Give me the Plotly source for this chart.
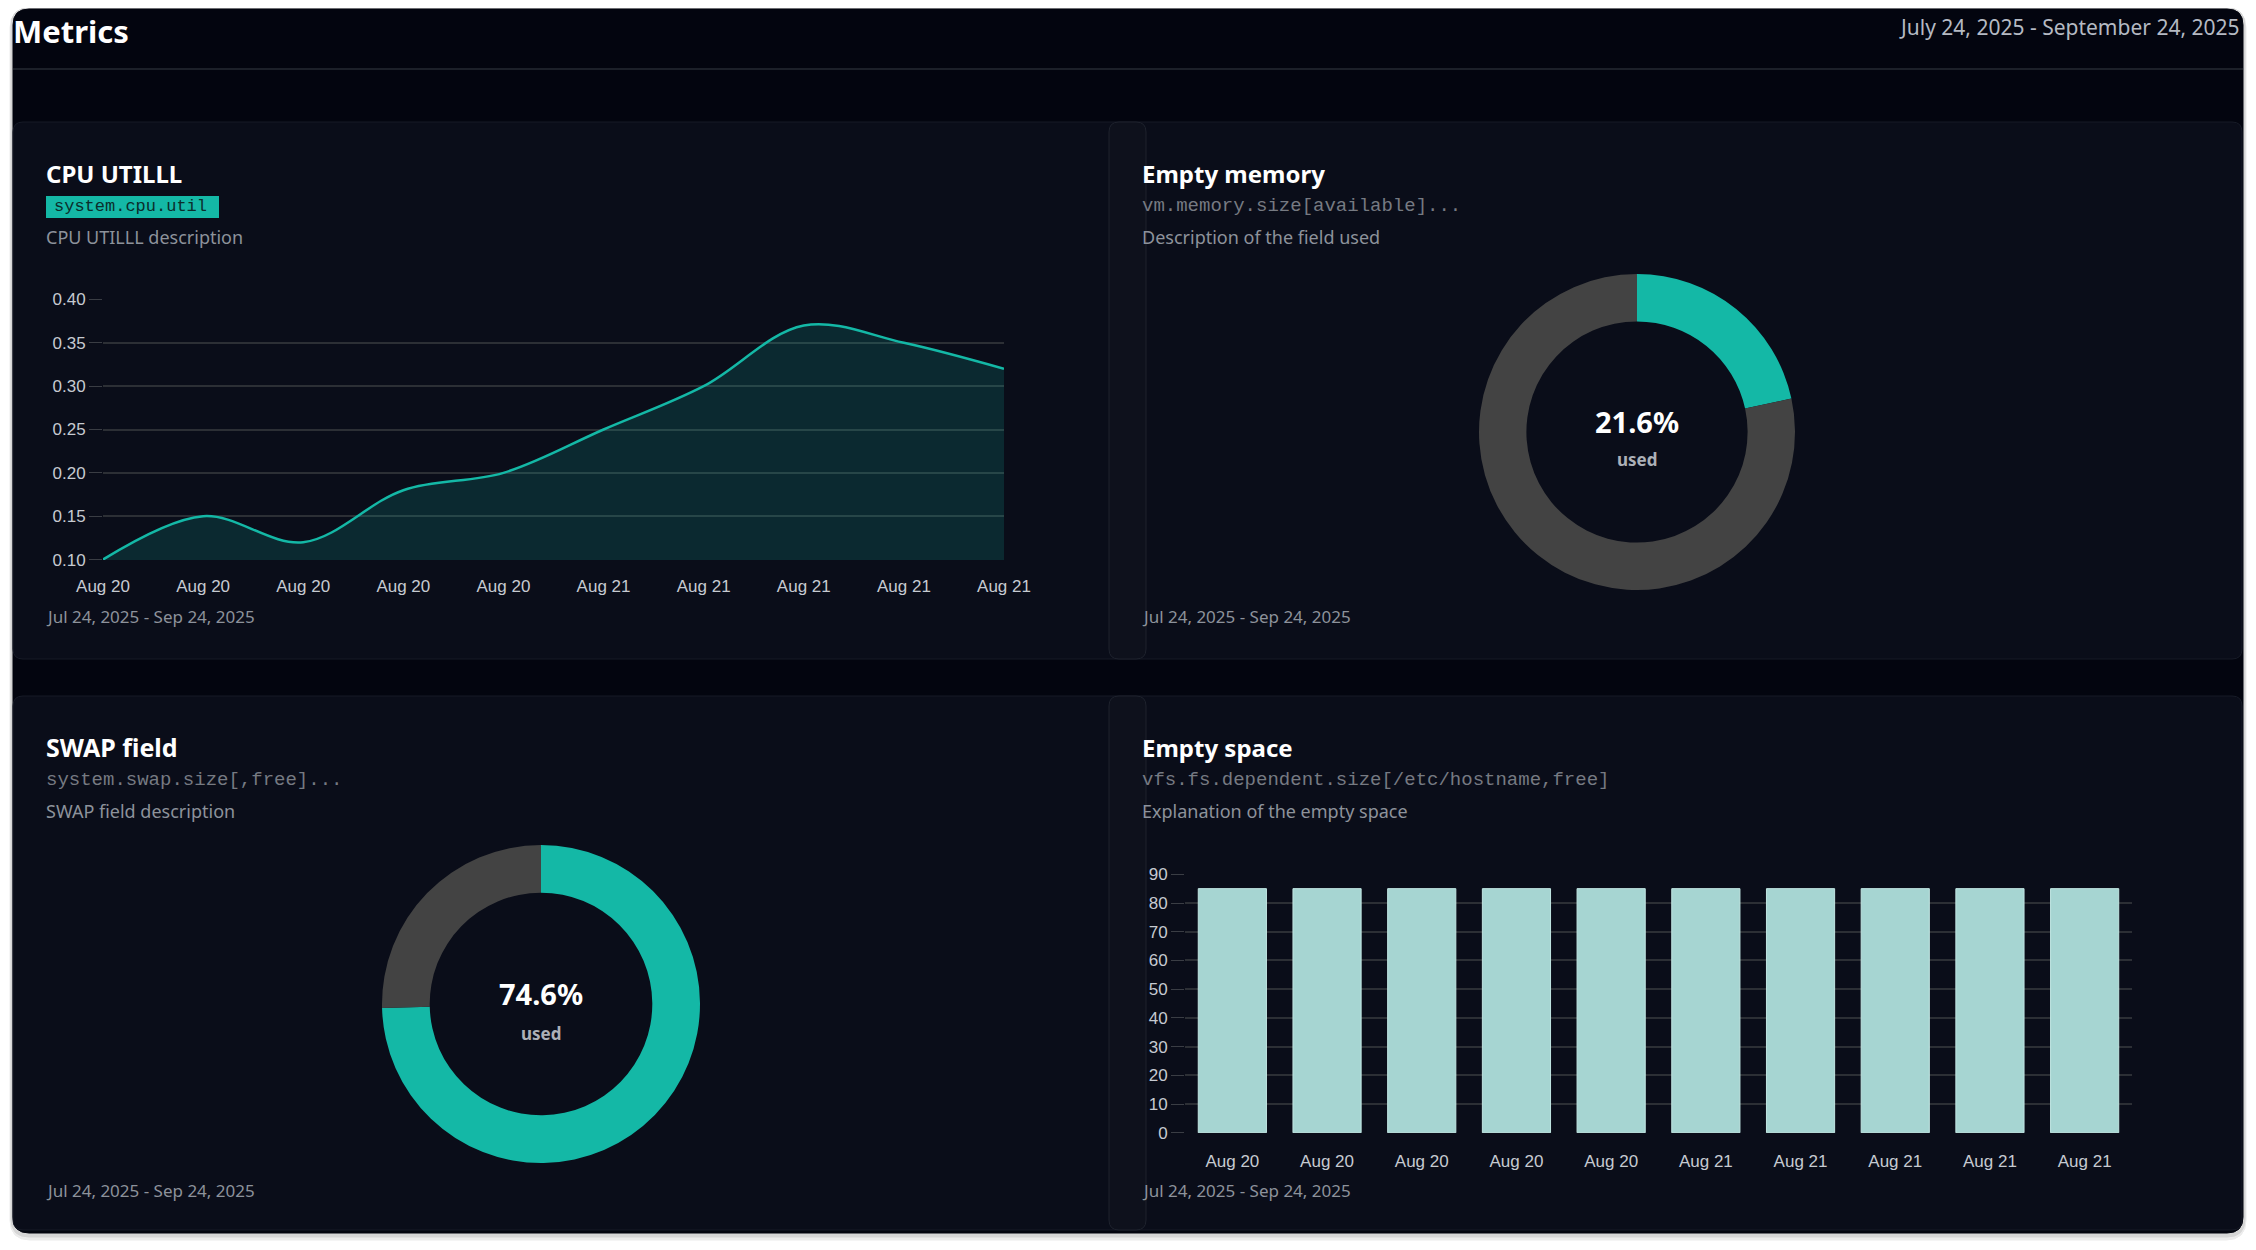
import plotly.graph_objects as go

# ---- data ----
cpu_labels = ["Aug 20", "Aug 20", "Aug 20", "Aug 20", "Aug 20",
              "Aug 21", "Aug 21", "Aug 21", "Aug 21", "Aug 21"]
cpu_values = [0.10, 0.15, 0.12, 0.18, 0.20, 0.25, 0.30, 0.37, 0.35, 0.32]

memory_used = 21.6
swap_used = 74.6

space_labels = ["Aug 20", "Aug 20", "Aug 20", "Aug 20", "Aug 20",
                "Aug 21", "Aug 21", "Aug 21", "Aug 21", "Aug 21"]
space_values = [85, 85, 85, 85, 85, 85, 85, 85, 85, 85]

# ---- page geometry (pixels) ----
W, H = 2240, 1234
OFF = 8  # body margin of the html page

TEAL = "#14b8a6"
GREY_RING = "#434343"
FRAME_BG = "#03050f"
PANEL_BG = "#0a0d19"
PANEL_LINE = "#171b27"
TXT_MUTED = "#8d929b"
CODE_TXT = "#767a82"
TICK_TXT = "#c6cad1"
GRID = "#2c2f35"
UI_FONT = "Noto Sans"
TICK_FONT = "Liberation Sans"
MONO_FONT = "Liberation Mono"


def px(x):
    return (x - OFF) / W


def py(y):
    return 1 - (y - OFF) / H


def rrect(x0, y0, x1, y1, r):
    return (f"M {px(x0 + r)},{py(y0)} L {px(x1 - r)},{py(y0)} "
            f"Q {px(x1)},{py(y0)} {px(x1)},{py(y0 + r)} L {px(x1)},{py(y1 - r)} "
            f"Q {px(x1)},{py(y1)} {px(x1 - r)},{py(y1)} L {px(x0 + r)},{py(y1)} "
            f"Q {px(x0)},{py(y1)} {px(x0)},{py(y1 - r)} L {px(x0)},{py(y0 + r)} "
            f"Q {px(x0)},{py(y0)} {px(x0 + r)},{py(y0)} Z")


def box(x0, y0, x1, y1, r, fill, line=None):
    return dict(type="path", xref="paper", yref="paper", layer="below",
                path=rrect(x0, y0, x1, y1, r), fillcolor=fill,
                line=dict(color=line or fill, width=1))


def label(x, y, text, size, color, family=UI_FONT, bold=False, anchor="left"):
    if bold:
        text = f"<b>{text}</b>"
    return dict(x=px(x), y=py(y), xref="paper", yref="paper", text=text,
                showarrow=False, xanchor=anchor, yanchor="middle",
                font=dict(size=size, color=color, family=family))


fig = go.Figure()

# CPU line
fig.add_trace(go.Scatter(
    x=list(range(len(cpu_values))), y=cpu_values,
    mode="lines", line=dict(color=TEAL, width=2.5, shape="spline", smoothing=1.0),
    fill="tozeroy", fillcolor="rgba(20,184,166,0.17)",
    xaxis="x", yaxis="y", hoverinfo="y"))

# Empty memory donut
fig.add_trace(go.Pie(
    values=[memory_used, 100 - memory_used], labels=["used", "free"],
    hole=0.70, sort=False, direction="clockwise", rotation=0,
    marker=dict(colors=[TEAL, GREY_RING], line=dict(width=0)),
    textinfo="none", showlegend=False,
    domain=dict(x=[px(1637 - 158), px(1637 + 158)], y=[py(432 + 158), py(432 - 158)])))

# SWAP donut
fig.add_trace(go.Pie(
    values=[swap_used, 100 - swap_used], labels=["used", "free"],
    hole=0.70, sort=False, direction="clockwise", rotation=0,
    marker=dict(colors=[TEAL, GREY_RING], line=dict(width=0)),
    textinfo="none", showlegend=False,
    domain=dict(x=[px(541 - 159), px(541 + 159)], y=[py(1004 + 159), py(1004 - 159)])))

# Empty space bars
fig.add_trace(go.Bar(
    x=list(range(len(space_values))), y=space_values,
    marker=dict(color="#a6d5d2", line=dict(color="#c2e6e3", width=1)),
    width=0.72, xaxis="x2", yaxis="y2", hoverinfo="y"))

shapes = [
    # soft shadow round the frame
    box(10, 8, 2246, 1240, 20, "#ececec"),
    box(11, 8, 2245, 1237, 18, "#d6d6d6"),
    box(13, 9, 2243, 1233, 16, FRAME_BG),
    dict(type="line", xref="paper", yref="paper", layer="below",
         x0=px(13), x1=px(2243), y0=py(69), y1=py(69),
         line=dict(color="#262a33", width=1.5)),
    box(13, 122, 2242, 659, 10, PANEL_BG, PANEL_LINE),
    box(1109, 122, 1146, 659, 10, "#0e111c", "#1e222d"),
    box(13, 696, 2242, 1230, 10, PANEL_BG, PANEL_LINE),
    box(1109, 696, 1146, 1230, 10, "#0e111c", "#1e222d"),
    dict(type="rect", xref="paper", yref="paper", layer="below",
         x0=px(46), x1=px(219), y0=py(218), y1=py(196),
         fillcolor=TEAL, line=dict(width=0)),
]

annotations = [
    dict(x=px(11), y=1, xref="paper", yref="paper", text="<b>Metrics</b>",
         showarrow=False, xanchor="left", yanchor="top",
         font=dict(size=31, color="#ffffff", family=UI_FONT)),
    label(2242, 27, "July 24, 2025 - September 24, 2025", 21, "#b5bac3", anchor="right"),

    label(44, 174, "CPU UTILLL", 24, "#ffffff", bold=True),
    label(52, 207, "system.cpu.util", 17, "#0b2e2c", family=MONO_FONT),
    label(44, 237, "CPU UTILLL description", 18, TXT_MUTED),
    label(44, 617, "Jul 24, 2025 - Sep 24, 2025", 17, TXT_MUTED),

    label(1140, 174, "Empty memory", 24, "#ffffff", bold=True),
    label(1140, 206, "vm.memory.size[available]...", 19, CODE_TXT, family=MONO_FONT),
    label(1140, 237, "Description of the field used", 18, TXT_MUTED),
    label(1140, 617, "Jul 24, 2025 - Sep 24, 2025", 17, TXT_MUTED),
    label(1637, 421, f"{memory_used}%", 29, "#ffffff", bold=True, anchor="center"),
    label(1637, 459, "used", 17, "#acb0b7", bold=True, anchor="center"),

    label(44, 747, "SWAP field", 25, "#ffffff", bold=True),
    label(44, 780, "system.swap.size[,free]...", 19, CODE_TXT, family=MONO_FONT),
    label(44, 811, "SWAP field description", 18, TXT_MUTED),
    label(44, 1190, "Jul 24, 2025 - Sep 24, 2025", 17, TXT_MUTED),
    label(541, 994, f"{swap_used}%", 29, "#ffffff", bold=True, anchor="center"),
    label(541, 1033, "used", 17, "#acb0b7", bold=True, anchor="center"),

    label(1140, 747, "Empty space", 24, "#ffffff", bold=True),
    label(1140, 780, "vfs.fs.dependent.size[/etc/hostname,free]", 19, CODE_TXT, family=MONO_FONT),
    label(1140, 811, "Explanation of the empty space", 18, TXT_MUTED),
    label(1140, 1190, "Jul 24, 2025 - Sep 24, 2025", 17, TXT_MUTED),
]

tick_font = dict(family=TICK_FONT, size=17, color=TICK_TXT)

fig.update_layout(
    width=W, height=H,
    margin=dict(l=0, r=0, t=0, b=0, autoexpand=False),
    paper_bgcolor="white", plot_bgcolor="rgba(0,0,0,0)",
    showlegend=False,
    shapes=shapes, annotations=annotations,
    xaxis=dict(domain=[px(103), px(1004)], anchor="y",
               range=[0, len(cpu_values) - 1],
               tickvals=list(range(len(cpu_labels))), ticktext=cpu_labels,
               showgrid=False, zeroline=False, showline=False,
               ticks="outside", ticklen=11, tickcolor="rgba(0,0,0,0)",
               tickfont=tick_font, fixedrange=True, automargin=False),
    yaxis=dict(domain=[py(560), py(299)], anchor="x",
               range=[0.0995, 0.4005], dtick=0.05, tickformat=".2f",
               gridcolor=GRID, gridwidth=1.5, zeroline=False, showline=False,
               ticks="outside", ticklen=13, tickcolor="#3a3d44",
               tickfont=tick_font, fixedrange=True, automargin=False),
    xaxis2=dict(domain=[px(1185), px(2132)], anchor="y2",
                range=[-0.5, len(space_values) - 0.5],
                tickvals=list(range(len(space_labels))), ticktext=space_labels,
                showgrid=False, zeroline=False, showline=False,
                ticks="outside", ticklen=13, tickcolor="rgba(0,0,0,0)",
                tickfont=tick_font, fixedrange=True, automargin=False),
    yaxis2=dict(domain=[py(1133), py(874)], anchor="x2",
                range=[-0.1, 90.1], dtick=10,
                gridcolor=GRID, gridwidth=1.5, zeroline=False, showline=False,
                ticks="outside", ticklen=13, tickcolor="#3a3d44",
                tickfont=tick_font, fixedrange=True, automargin=False),
)

fig.write_html("out.html")
